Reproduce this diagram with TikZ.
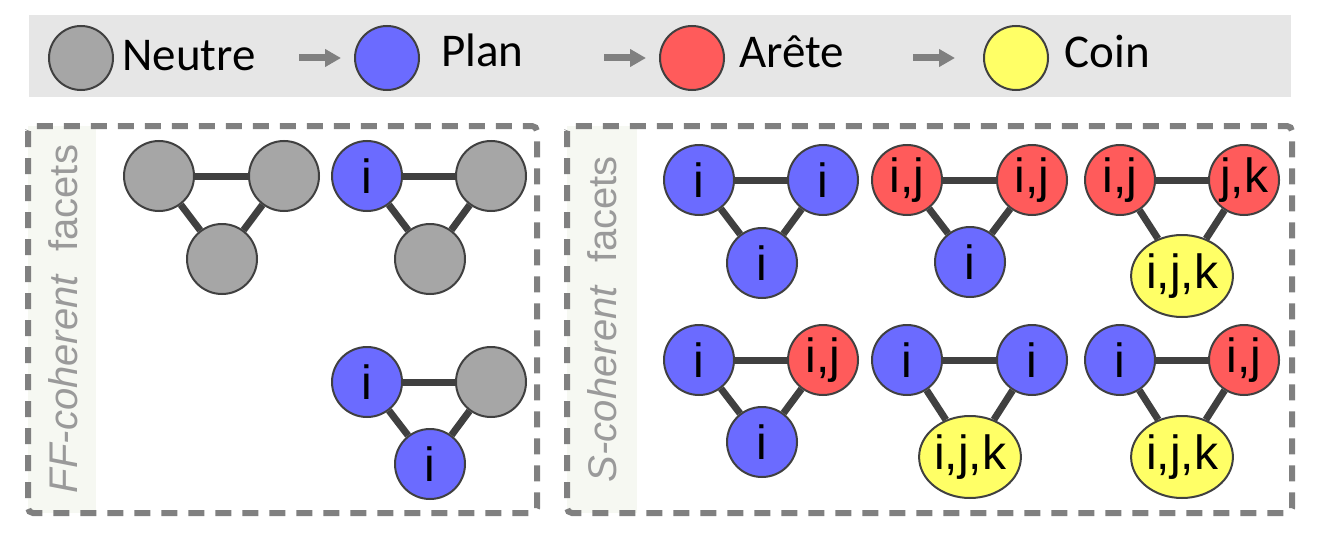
\documentclass[tikz,border=0pt]{standalone}
\usepackage{fontspec}
\setmainfont{Liberation Sans}
\newfontfamily\legendfont{Carlito}
\usetikzlibrary{shapes.geometric, arrows.meta}
\definecolor{neutreGray}{HTML}{A6A6A6}
\definecolor{planBlue}{HTML}{6B6BFF}
\definecolor{areteRed}{HTML}{FF5B5B}
\definecolor{coinYellow}{HTML}{FFFF66}
\definecolor{barGray}{HTML}{E6E6E6}
\definecolor{stripGreen}{HTML}{F6F8F2}
\definecolor{edgeGray}{HTML}{404040}
\definecolor{boxGray}{HTML}{808080}
\definecolor{labelGray}{HTML}{9A9A9A}

\begin{document}
\begin{tikzpicture}[x=0.5pt, y=-0.5pt]
		\tikzstyle{Vertex} = [circle, minimum size=35pt, inner sep=0pt, draw=edgeGray, line width=1pt, font=\fontsize{24}{24}\selectfont]
		\tikzstyle{Neutre} = [Vertex, fill=neutreGray]
		\tikzstyle{Plan} = [Vertex, fill=planBlue]
		\tikzstyle{Arete} = [Vertex, fill=areteRed]
		\tikzstyle{Coin} = [Vertex, ellipse, minimum width=44pt, minimum height=41pt, fill=coinYellow]
		\tikzstyle{LegendDot} = [minimum size=32pt]
		\tikzstyle{LegendText} = [anchor=base west, inner sep=0pt, font=\legendfont\fontsize{23.5}{23.5}\selectfont]
		\tikzstyle{edge} = [draw=edgeGray, line width=3.5pt]
		\tikzstyle{arrow} = [line width=3.5pt, draw=boxGray, -{Triangle[length=8pt, width=8.5pt]}]
		\tikzstyle{Group} = [draw=boxGray, line width=3pt, dash pattern=on 8pt off 5.5pt, rounded corners=2.5pt]
		\tikzstyle{SideLabel} = [rotate=90, text=labelGray, font=\fontsize{20}{20}\selectfont]
		
		\useasboundingbox (0,0) rectangle (1325,540);
		
		% legend
		\fill [barGray] (29,15) rectangle (1291,97);
		\node (neutreDot) [Neutre, LegendDot] at (81,58) {};
		\node (neutreText) [LegendText] at (122,70) {Neutre};
		\node (planDot) [Plan, LegendDot] at (387,58) {};
		\node (planText) [LegendText] at (441,67) {Plan};
		\node (areteDot) [Arete, LegendDot] at (692,58) {};
		\node (areteText) [LegendText] at (739,68) {Arête};
		\node (coinDot) [Coin, LegendDot, circle] at (1016,58) {};
		\node (coinText) [LegendText] at (1064,68) {Coin};
		\coordinate (arrow1a) at (299,58);
		\coordinate (arrow1b) at (341,58);
		\coordinate (arrow2a) at (604,58);
		\coordinate (arrow2b) at (646,58);
		\coordinate (arrow3a) at (913,58);
		\coordinate (arrow3b) at (955,58);
		\draw [arrow] (arrow1a) -- (arrow1b);
		\draw [arrow] (arrow2a) -- (arrow2b);
		\draw [arrow] (arrow3a) -- (arrow3b);
		
		% the two groups
		\fill [stripGreen] (28,126) rectangle (96,513);
		\fill [stripGreen] (567,126) rectangle (637,513);
		\draw [Group] (28,126) rectangle (537,513);
		\draw [Group] (567,126) rectangle (1292,513);
		\node (ffLabel) [SideLabel] at (63,319) {\textit{FF-coherent}\ \ facets};
		\node (sLabel) [SideLabel] at (602,319) {\textit{S-coherent}\ \ facets};
		
		% FF-coherent facets
		\node (ffAa) [Neutre] at (159,176) {};
		\node (ffAb) [Neutre] at (284,176) {};
		\node (ffAc) [Neutre] at (222,259) {};
		\node (ffBa) [Plan] at (367,176) {i};
		\node (ffBb) [Neutre] at (491,176) {};
		\node (ffBc) [Neutre] at (430,259) {};
		\node (ffCa) [Plan] at (367,382) {i};
		\node (ffCb) [Neutre] at (491,382) {};
		\node (ffCc) [Plan] at (430,464) {i};
		
		% S-coherent facets
		\node (sAa) [Plan] at (699,180) {i};
		\node (sAb) [Plan] at (823,180) {i};
		\node (sAc) [Plan] at (762,263) {i};
		\node (sBa) [Arete] at (907,180) {i,j};
		\node (sBb) [Arete] at (1032,180) {i,j};
		\node (sBc) [Plan] at (970,262) {i};
		\node (sCa) [Arete] at (1120,180) {i,j};
		\node (sCb) [Arete] at (1244,180) {j,k};
		\node (sCc) [Coin] at (1182,276) {i,j,k};
		\node (sDa) [Plan] at (699,360) {i};
		\node (sDb) [Arete] at (823,360) {i,j};
		\node (sDc) [Plan] at (762,442) {i};
		\node (sEa) [Plan] at (907,360) {i};
		\node (sEb) [Plan] at (1032,360) {i};
		\node (sEc) [Coin] at (970,457) {i,j,k};
		\node (sFa) [Plan] at (1120,360) {i};
		\node (sFb) [Arete] at (1244,360) {i,j};
		\node (sFc) [Coin] at (1182,457) {i,j,k};
		
		\foreach \g in {ffA,ffB,ffC,sA,sB,sC,sD,sE,sF}{
			\draw [edge] (\g a) -- (\g b);
			\draw [edge] (\g a) -- (\g c);
			\draw [edge] (\g b) -- (\g c);
		}
\end{tikzpicture}
\end{document}
